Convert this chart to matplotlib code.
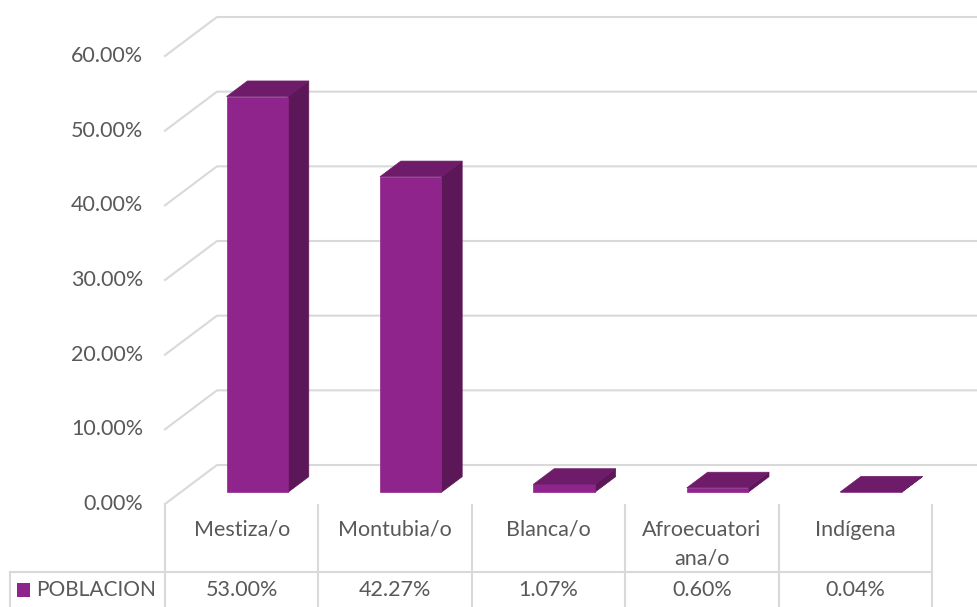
import matplotlib
matplotlib.use("Agg")
import matplotlib.pyplot as plt
from matplotlib.patches import Polygon, Rectangle
from matplotlib.lines import Line2D
from matplotlib.transforms import blended_transform_factory

# ---- data ----
categories = ["Mestiza/o", "Montubia/o", "Blanca/o", "Afroecuatori\nana/o", "Indígena"]
values = [53.00, 42.27, 1.07, 0.60, 0.04]
value_labels = ["53.00%", "42.27%", "1.07%", "0.60%", "0.04%"]
series_name = "POBLACION"
yticks = [0, 10, 20, 30, 40, 50, 60]
ytick_labels = ["0.00%", "10.00%", "20.00%", "30.00%", "40.00%", "50.00%", "60.00%"]

# ---- style ----
W, H = 977, 607
FRONT = "#8f248d"
TOP = "#6e1b6a"
SIDE = "#5c1758"
GRID = "#d9d9d9"
TXT = "#595959"
FONT = "Lato"
FS = 15.5

fig = plt.figure(figsize=(W / 100, H / 100), dpi=100)
# axes = front plane of the 3D box
x0p, x1p = 165, 932
y0p, y1p = 504, 56
ax = fig.add_axes([x0p / W, 1 - y0p / H, (x1p - x0p) / W, (y0p - y1p) / H])
ax.set_xlim(-0.5, len(categories) - 0.5)
ax.set_ylim(0, 60)
ax.axis("off")

px_per_x = (x1p - x0p) / len(categories)
px_per_y = (y0p - y1p) / 60.0
DX = 52 / px_per_x   # full depth offset, data units
DY = 39 / px_per_y


def proj(x, y, z):
    return (x + z * DX, y + z * DY)


# gridlines (back wall + left wall)
xl = -0.5
xr = len(categories) - 0.5 + 0.5
for v in yticks:
    p0 = proj(xl, v, 0)
    p1 = proj(xl, v, 1)
    p2 = proj(xr, v, 1)
    ax.add_line(Line2D([p0[0], p1[0], p2[0]], [p0[1], p1[1], p2[1]],
                       color=GRID, lw=1.5, clip_on=False, zorder=1))

# bars
bw = 0.40
z0, z1 = 0.30, 0.70
for i, v in enumerate(values):
    xa, xb = i - bw / 2, i + bw / 2
    front = [proj(xa, 0, z0), proj(xb, 0, z0), proj(xb, v, z0), proj(xa, v, z0)]
    side = [proj(xb, 0, z0), proj(xb, 0, z1), proj(xb, v, z1), proj(xb, v, z0)]
    top = [proj(xa, v, z0), proj(xb, v, z0), proj(xb, v, z1), proj(xa, v, z1)]
    ax.add_patch(Polygon(side, closed=True, fc=SIDE, ec=SIDE, lw=0.5, clip_on=False, zorder=3))
    ax.add_patch(Polygon(front, closed=True, fc=FRONT, ec=FRONT, lw=0.5, clip_on=False, zorder=4))
    ax.add_patch(Polygon(top, closed=True, fc=TOP, ec=TOP, lw=0.5, clip_on=False, zorder=5))

# y tick labels
for v, lab in zip(yticks, ytick_labels):
    ax.annotate(lab, xy=(xl, v), xytext=(-22, 0), textcoords="offset pixels",
                ha="right", va="center", fontsize=FS, color=TXT, family=FONT,
                annotation_clip=False)

# data table
bt = blended_transform_factory(ax.transData, fig.transFigure)
ft = fig.transFigure


def fy(p):
    return 1 - p / H


row_top, row_mid, row_bot = 505, 572, 607
edges = [i - 0.5 for i in range(len(categories) + 1)]
for e in edges:
    ax.add_line(Line2D([e, e], [fy(row_top), fy(row_bot)], transform=bt,
                       color=GRID, lw=1.5, clip_on=False))
fig.add_artist(Line2D([10 / W, 10 / W], [fy(row_mid), fy(row_bot)], transform=ft,
                      color=GRID, lw=1.5))
fig.add_artist(Line2D([10 / W, x1p / W], [fy(row_mid), fy(row_mid)], transform=ft,
                      color=GRID, lw=1.5))

for i, (c, vl) in enumerate(zip(categories, value_labels)):
    ax.text(i, fy(520), c, transform=bt, ha="center", va="top", fontsize=FS,
            color=TXT, family=FONT, linespacing=1.52)
    ax.text(i, fy(590), vl, transform=bt, ha="center", va="center", fontsize=FS,
            color=TXT, family=FONT)

fig.add_artist(Rectangle((17 / W, fy(597)), 13 / W, 14 / H, transform=ft,
                         fc=FRONT, ec="none"))
fig.text(36 / W, fy(590), series_name, ha="left", va="center", fontsize=FS - 0.5,
         color=TXT, family=FONT)

fig.savefig("out.png", dpi=100)
